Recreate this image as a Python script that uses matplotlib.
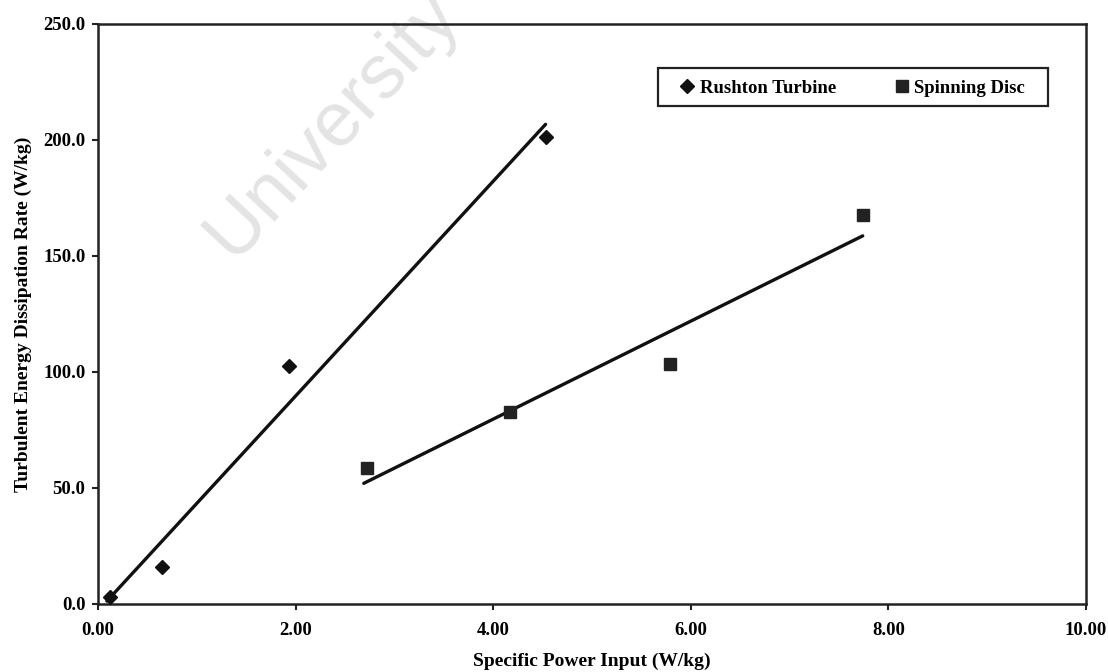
import numpy as np
import matplotlib.pyplot as plt
from matplotlib.lines import Line2D
from matplotlib.patches import Rectangle

# data
rushton_x = [0.12, 0.65, 1.93, 4.53]
rushton_y = [3.0, 16.0, 102.5, 201.5]
disc_x = [2.72, 4.17, 5.79, 7.74]
disc_y = [58.5, 82.8, 103.3, 167.5]

x_ticks = [0, 2, 4, 6, 8, 10]
y_ticks = [0, 50, 100, 150, 200, 250]

plt.rcParams['font.family'] = ['Liberation Serif', 'DejaVu Serif']
plt.rcParams['font.weight'] = 'bold'

W, H = 1108, 672
fig = plt.figure(figsize=(W / 100, H / 100), dpi=100)
ax = fig.add_axes([98 / W, 68 / H, 988 / W, 580 / H])
ax.set_facecolor('none')

# watermark of the scanned page
fig.text(332 / W, 1 - 125 / H, 'University', family='Liberation Sans',
         fontweight='normal', fontsize=55, color='#e4e4e4', rotation=47,
         ha='center', va='center', zorder=-5)

# linear trend lines through each series
for xs, ys in [(rushton_x, rushton_y), (disc_x, disc_y)]:
    k, b = np.polyfit(xs, ys, 1)
    xx = np.array([min(xs) - 0.03, max(xs)])
    ax.plot(xx, k * xx + b, color='#111111', lw=2.4, solid_capstyle='round', zorder=2)

ax.plot(rushton_x, rushton_y, ls='none', marker='D', ms=7.5, color='#111111', zorder=3)
ax.plot(disc_x, disc_y, ls='none', marker='s', ms=9, color='#222222', zorder=3)

ax.set_xlim(0, 10)
ax.set_ylim(0, 250)
ax.set_xticks(x_ticks)
ax.set_yticks(y_ticks)
ax.set_xticklabels([f'{v:.2f}' for v in x_ticks], fontsize=13.5, fontweight='bold')
ax.set_yticklabels([f'{v:.1f}' for v in y_ticks], fontsize=13.5, fontweight='bold')
ax.tick_params(direction='out', length=4, width=1.5, color='#222222', pad=5)
ax.tick_params(axis='x', pad=9)
for s in ax.spines.values():
    s.set_linewidth(1.8)
    s.set_color('#222222')

ax.set_xlabel('Specific Power Input (W/kg)', fontsize=14, fontweight='bold', labelpad=10)
ax.set_ylabel('Turbulent Energy Dissipation Rate (W/kg)', fontsize=14,
              fontweight='bold', labelpad=8)

# legend box (wider than the entries, as in the original)
box_l, box_r, box_t, box_b = 658, 1048, 68, 106
fig.add_artist(Rectangle((box_l / W, 1 - box_b / H), (box_r - box_l) / W,
                         (box_b - box_t) / H, transform=fig.transFigure,
                         facecolor='white', edgecolor='#222222', lw=1.6, zorder=4))

handles = [
    Line2D([], [], ls='none', marker='D', ms=7, color='#111111', label='Rushton Turbine'),
    Line2D([], [], ls='none', marker='s', ms=8, color='#222222', label='Spinning Disc'),
]
leg = fig.legend(handles=handles, ncol=2, loc='center',
                 bbox_to_anchor=((box_l + box_r) / 2 / W, 1 - 88 / H),
                 frameon=False, handlelength=0.7, handletextpad=0.3,
                 columnspacing=3.2, borderpad=0, borderaxespad=0,
                 prop={'weight': 'bold', 'size': 13.5})
leg.set_zorder(5)

fig.savefig('out.png', dpi=100)
